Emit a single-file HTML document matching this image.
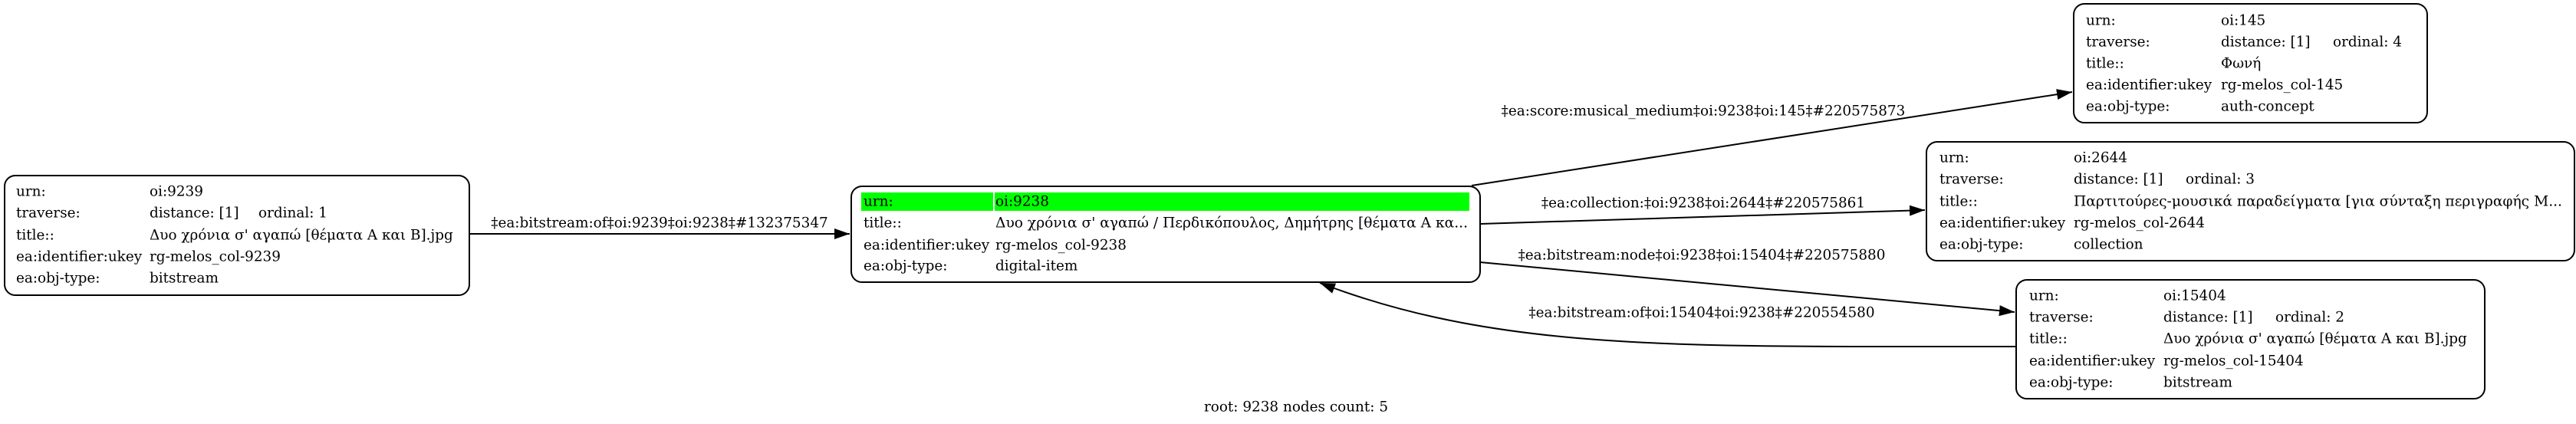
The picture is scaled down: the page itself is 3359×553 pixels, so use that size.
<!DOCTYPE html>
<html><head><meta charset="utf-8"><style>
html,body{margin:0;padding:0;background:#fff;}
svg{display:block;}
text{font-family:"DejaVu Serif",serif;font-size:18.4px;fill:#000;dominant-baseline:central;}
</style></head><body>
<svg width="3359" height="553" viewBox="0 0 3359 553" xmlns="http://www.w3.org/2000/svg">
<defs>
<marker id="a" viewBox="0 0 10 7" markerWidth="20" markerHeight="14" refX="10" refY="3.5" orient="auto" markerUnits="userSpaceOnUse">
<path d="M0,0 L10,3.5 L0,7 z" fill="#000"/>
</marker>
</defs>
<rect width="3359" height="553" fill="#fff"/>

<g stroke="#000" stroke-width="2" fill="none">
<path d="M612,305 L1108,305" marker-end="url(#a)"/>
<path d="M1919,242 L2702,120" marker-end="url(#a)"/>
<path d="M1930,292 L2510,274" marker-end="url(#a)"/>
<path d="M1930,342 L2627,407" marker-end="url(#a)"/>
<path d="M2629,452 L2442,452 C2120,452 1920,445 1721,369" marker-end="url(#a)"/>
</g>

<text x="860" y="291" text-anchor="middle">‡ea:bitstream:of‡oi:9239‡oi:9238‡#132375347</text>
<text x="2221" y="145" text-anchor="middle">‡ea:score:musical_medium‡oi:9238‡oi:145‡#220575873</text>
<text x="2221" y="265" text-anchor="middle">‡ea:collection:‡oi:9238‡oi:2644‡#220575861</text>
<text x="2219" y="333" text-anchor="middle">‡ea:bitstream:node‡oi:9238‡oi:15404‡#220575880</text>
<text x="2219" y="408" text-anchor="middle">‡ea:bitstream:of‡oi:15404‡oi:9238‡#220554580</text>

<rect x="6" y="229" width="606" height="156" rx="14" fill="#fff" stroke="#000" stroke-width="2"/>
<text x="21" y="250">urn:</text><text x="195" y="250">oi:9239</text>
<text x="21" y="278">traverse:</text><text x="195" y="278">distance: [1]</text><text x="337" y="278">ordinal: 1</text>
<text x="21" y="307">title::</text><text x="195" y="307">Δυο χρόνια σ' αγαπώ [θέματα Α και Β].jpg</text>
<text x="21" y="335">ea:identifier:ukey</text><text x="195" y="335">rg-melos_col-9239</text>
<text x="21" y="363">ea:obj-type:</text><text x="195" y="363">bitstream</text>

<rect x="1110" y="243" width="820" height="125" rx="14" fill="#fff" stroke="#000" stroke-width="2"/>
<rect x="1123" y="251" width="172" height="24" fill="#00ff00"/>
<rect x="1297" y="251" width="619" height="24" fill="#00ff00"/>
<text x="1126" y="263">urn:</text><text x="1298" y="263">oi:9238</text>
<text x="1126" y="291">title::</text><text x="1298" y="291" textLength="616" lengthAdjust="spacingAndGlyphs">Δυο χρόνια σ' αγαπώ / Περδικόπουλος, Δημήτρης [θέματα Α κα...</text>
<text x="1126" y="320">ea:identifier:ukey</text><text x="1298" y="320">rg-melos_col-9238</text>
<text x="1126" y="347">ea:obj-type:</text><text x="1298" y="347">digital-item</text>

<rect x="2704" y="5" width="461" height="155" rx="14" fill="#fff" stroke="#000" stroke-width="2"/>
<text x="2720" y="27">urn:</text><text x="2896" y="27">oi:145</text>
<text x="2720" y="55">traverse:</text><text x="2896" y="55">distance: [1]</text><text x="3042" y="55">ordinal: 4</text>
<text x="2720" y="83">title::</text><text x="2896" y="83">Φωνή</text>
<text x="2720" y="111">ea:identifier:ukey</text><text x="2896" y="111">rg-melos_col-145</text>
<text x="2720" y="139">ea:obj-type:</text><text x="2896" y="139">auth-concept</text>

<rect x="2512" y="185" width="845" height="155" rx="14" fill="#fff" stroke="#000" stroke-width="2"/>
<text x="2529" y="206">urn:</text><text x="2704" y="206">oi:2644</text>
<text x="2529" y="234">traverse:</text><text x="2704" y="234">distance: [1]</text><text x="2850" y="234">ordinal: 3</text>
<text x="2529" y="263">title::</text><text x="2704" y="263" textLength="637" lengthAdjust="spacingAndGlyphs">Παρτιτούρες-μουσικά παραδείγματα [για σύνταξη περιγραφής Μ...</text>
<text x="2529" y="291">ea:identifier:ukey</text><text x="2704" y="291">rg-melos_col-2644</text>
<text x="2529" y="319">ea:obj-type:</text><text x="2704" y="319">collection</text>

<rect x="2629" y="365" width="611" height="155" rx="14" fill="#fff" stroke="#000" stroke-width="2"/>
<text x="2646" y="386">urn:</text><text x="2821" y="386">oi:15404</text>
<text x="2646" y="414">traverse:</text><text x="2821" y="414">distance: [1]</text><text x="2967" y="414">ordinal: 2</text>
<text x="2646" y="442">title::</text><text x="2821" y="442">Δυο χρόνια σ' αγαπώ [θέματα Α και Β].jpg</text>
<text x="2646" y="471">ea:identifier:ukey</text><text x="2821" y="471">rg-melos_col-15404</text>
<text x="2646" y="499">ea:obj-type:</text><text x="2821" y="499">bitstream</text>

<text x="1690" y="531" text-anchor="middle">root: 9238 nodes count: 5</text>
</svg>
</body></html>
